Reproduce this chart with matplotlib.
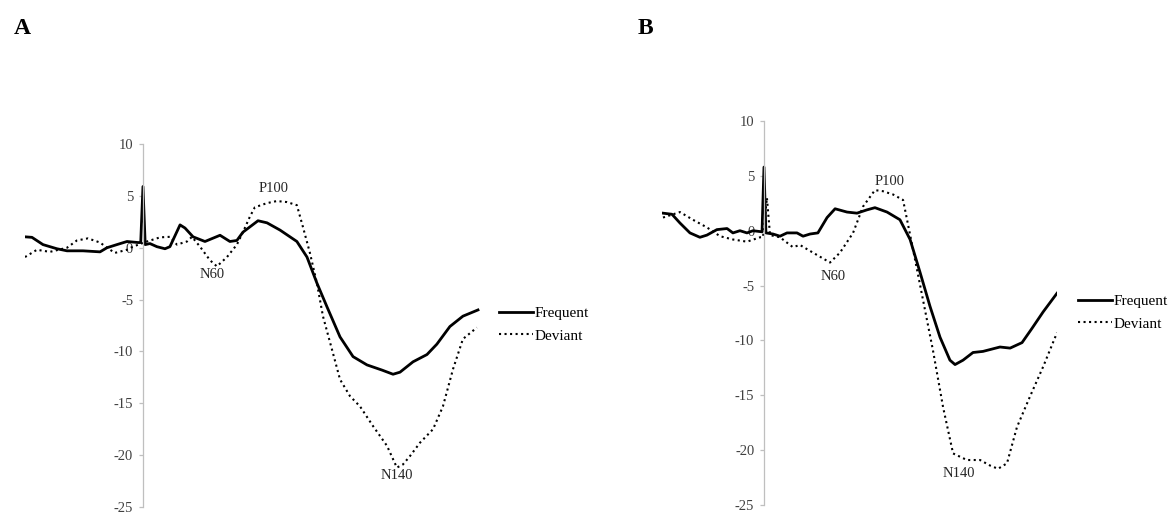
import matplotlib
matplotlib.use("Agg")
import matplotlib.pyplot as plt

plt.rcParams["font.family"] = ["Liberation Serif", "DejaVu Serif"]

# panel A, time (ms) and amplitude (uV)
time_a_freq = [-52.5, -49.4, -44.5, -38.3, -33.8, -26.7, -19.1, -16.0, -11.6, -7.1, -2.2, -1.0,
               0.0, 1.0, 3.1, 6.2, 9.8, 12.0, 16.5, 18.7, 22.3, 27.6, 34.3, 38.7, 41.8, 44.5,
               51.2, 55.2, 61.0, 68.5, 73.0, 77.4, 81.9, 87.7, 93.5, 99.7, 106.4, 111.3, 114.4,
               120.2, 126.4, 130.8, 136.6, 142.4, 149.1]
freq_a = [1.05, 1.0, 0.3, -0.1, -0.3, -0.3, -0.4, 0.0, 0.3, 0.6, 0.5, 0.5,
          5.9, 0.3, 0.4, 0.1, -0.1, 0.1, 2.2, 1.9, 1.05, 0.6, 1.2, 0.6, 0.7, 1.5,
          2.6, 2.4, 1.7, 0.6, -0.9, -3.4, -5.7, -8.6, -10.5, -11.3, -11.8, -12.2, -12.0,
          -11.0, -10.3, -9.3, -7.6, -6.6, -6.0]

time_a_dev = [-52.5, -47.2, -41.4, -33.8, -29.4, -24.5, -19.1, -16.0, -12.5, -7.1, -4.5,
              1.8, 7.6, 12.0, 15.1, 19.6, 21.8, 25.4, 29.8, 32.9, 37.4, 41.8, 44.5, 47.6,
              49.8, 55.2, 59.6, 64.1, 68.5, 71.2, 74.3, 77.4, 80.1, 84.1, 87.7, 92.1, 96.6,
              102.4, 108.6, 113.0, 115.7, 118.8, 123.3, 129.1, 133.5, 138.0, 142.4, 148.6]
dev_a = [-0.9, -0.2, -0.4, 0.0, 0.7, 0.9, 0.5, 0.0, -0.5, -0.2, 0.1,
         0.6, 1.0, 1.05, 0.3, 0.6, 1.05, 0.1, -1.2, -1.8, -0.9, 0.3, 1.5, 3.0,
         3.9, 4.3, 4.5, 4.4, 4.1, 2.0, -0.5, -3.4, -6.6, -9.8, -12.7, -14.3, -15.3,
         -17.2, -19.1, -21.2, -20.9, -20.1, -18.8, -17.5, -15.3, -11.7, -8.8, -7.7]

# panel B
time_b_freq = [-51.7, -47.1, -43.0, -37.9, -32.8, -29.2, -24.1, -18.9, -15.9, -12.3, -8.7,
               -5.6, -1.0, 0.0, 1.0, 4.6, 8.2, 11.8, 16.9, 20.0, 23.6, 27.6, 32.3, 36.4,
               42.5, 47.6, 52.7, 56.8, 63.0, 69.6, 74.8, 79.9, 85.0, 90.1, 95.2, 97.8,
               101.9, 107.0, 112.1, 120.8, 126.0, 132.1, 137.2, 142.9, 150.0]
freq_b = [1.6, 1.5, 0.7, -0.2, -0.6, -0.4, 0.1, 0.2, -0.2, 0.0, -0.2,
          0.0, -0.1, 5.8, -0.2, -0.3, -0.5, -0.2, -0.2, -0.5, -0.3, -0.2, 1.2, 2.0,
          1.7, 1.6, 1.9, 2.1, 1.7, 1.0, -0.8, -3.8, -6.9, -9.7, -11.8, -12.2,
          -11.8, -11.1, -11.0, -10.6, -10.7, -10.2, -8.9, -7.4, -5.7]

time_b_dev = [-51.7, -43.0, -36.4, -29.2, -22.5, -15.9, -8.7, -2.0, -0.5, 1.5, 3.1,
              8.2, 14.8, 18.4, 25.1, 33.8, 38.9, 45.6, 50.7, 56.8, 60.9, 66.1, 71.2,
              76.3, 81.4, 86.5, 91.7, 96.8, 103.9, 110.6, 115.7, 119.8, 124.4, 129.5,
              136.2, 142.9, 150.0]
dev_b = [1.2, 1.7, 1.0, 0.3, -0.5, -0.8, -1.0, -0.6, -0.6, 3.0, -0.4,
         -0.6, -1.5, -1.3, -2.0, -2.9, -2.0, -0.2, 2.2, 3.7, 3.6, 3.3, 2.8,
         -1.7, -6.3, -10.9, -16.1, -20.3, -20.9, -20.9, -21.4, -21.7, -21.2, -17.9,
         -15.1, -12.4, -9.3]

yticks = [10, 5, 0, -5, -10, -15, -20, -25]

# component labels: (text, time, amplitude)
labels_a = [("P100", 58, 5.7), ("N60", 31, -2.6), ("N140", 113, -22.0)]
labels_b = [("P100", 64.5, 4.5), ("N60", 35.3, -4.2), ("N140", 100, -22.1)]

W, H = 1173, 512


def draw_panel(rect, xlim, t_freq, v_freq, t_dev, v_dev, comp_labels, legend_xy):
    ax = fig.add_axes(rect)
    ax.plot(t_freq, v_freq, color="black", lw=2.0, label="Frequent", solid_joinstyle="round")
    ax.plot(t_dev, v_dev, color="black", lw=1.5, linestyle=":", label="Deviant")
    ax.set_xlim(*xlim)
    ax.set_ylim(-25, 10)
    ax.set_yticks(yticks)
    ax.set_yticklabels([str(v) for v in yticks])

    for side in ["top", "right", "bottom"]:
        ax.spines[side].set_visible(False)
    ax.spines["left"].set_position(("data", 0))
    ax.spines["left"].set_color("#bfbfbf")
    ax.spines["left"].set_linewidth(0.9)
    ax.tick_params(axis="y", direction="out", length=3, width=0.9, color="#bfbfbf",
                   labelsize=10.5, labelcolor="#404040", pad=4)
    ax.set_xticks([])
    ax.patch.set_alpha(0)

    for txt, t, v in comp_labels:
        ax.text(t, v, txt, ha="center", va="center", fontsize=10.5, color="#262626")

    ax.legend(loc="center left", bbox_to_anchor=legend_xy, bbox_transform=fig.transFigure,
              frameon=False, fontsize=11, handlelength=2.2, handletextpad=0.15,
              borderpad=0, borderaxespad=0, labelspacing=0.6)
    return ax


fig = plt.figure(figsize=(W / 100, H / 100), dpi=100)

# panel A: t=0 at x=143 px, 2.247 px per ms; y 10 -> 144 px, -25 -> 508 px
draw_panel([25 / W, (H - 507) / H, (480 - 25) / W, (507 - 144) / H], (-52.5, 150),
           time_a_freq, freq_a, time_a_dev, dev_a, labels_a,
           (499 / W, (H - 324.5) / H))

# panel B: t=0 at x=764 px, 1.953 px per ms; y 10 -> 121 px, -25 -> 505 px
draw_panel([662.4 / W, (H - 505) / H, (1057 - 662.4) / W, (505 - 121) / H], (-52, 150),
           time_b_freq, freq_b, time_b_dev, dev_b, labels_b,
           (1078 / W, (H - 312.5) / H))

fig.text(22 / W, 1 - 28 / H, "A", fontsize=17, fontweight="bold", ha="center", va="center")
fig.text(645 / W, 1 - 28 / H, "B", fontsize=17, fontweight="bold", ha="center", va="center")

fig.savefig("out.png", dpi=100)
